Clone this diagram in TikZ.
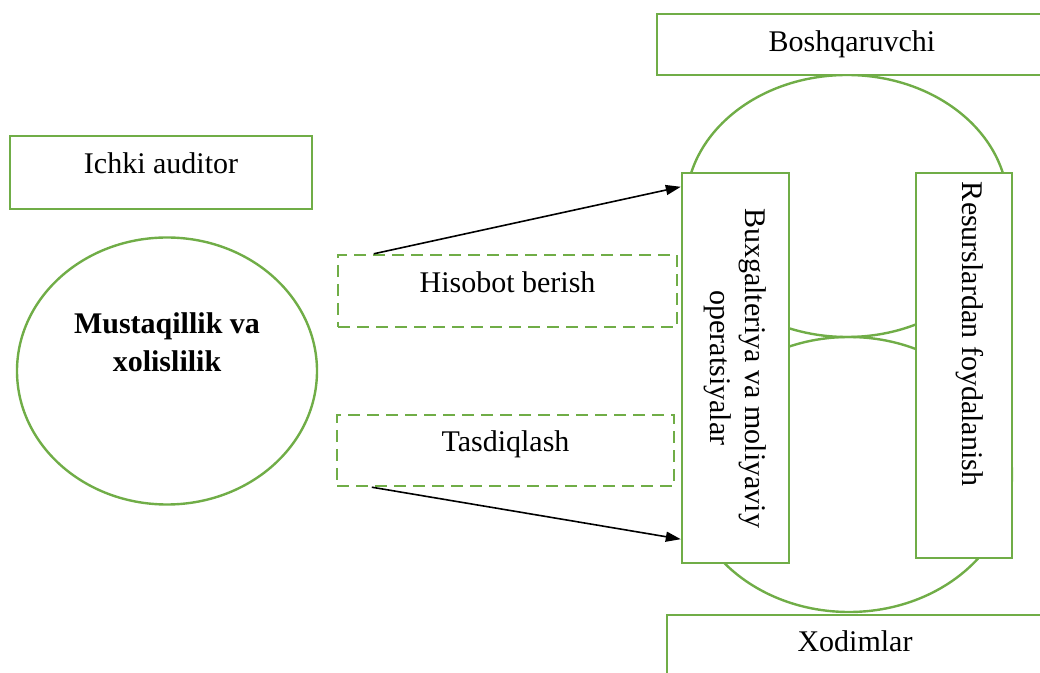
\documentclass[tikz,border=0pt]{standalone}
\usepackage{fontspec}
\setmainfont{Liberation Serif}
\usetikzlibrary{arrows.meta, shapes.geometric}
\definecolor{ggreen}{RGB}{112,173,71}

\begin{document}
\begin{tikzpicture}[x=0.5pt, y=-0.5pt, line width=1.2pt,
    every node/.style={font=\fontsize{15pt}{17.5pt}\selectfont},
    gbox/.style={draw=ggreen, fill=white},
    dbox/.style={draw=ggreen, dash pattern=on 6pt off 3.5pt},
    lowtxt/.style={text height=10pt, text depth=8.5pt},
    arr/.style={black, line width=0.8pt, -{Triangle[length=7.5pt, width=5pt]}}]
  \useasboundingbox (0,0) rectangle (1040,673);

  \draw[ggreen] (847,206) ellipse [x radius=161, y radius=131];
  \draw[ggreen] (849,474.5) ellipse [x radius=163, y radius=137.5];

  \node[gbox, lowtxt, minimum width=151pt, minimum height=36.5pt] (ichki) at (161,172.5) {Ichki auditor};
  \node[gbox, ellipse, minimum width=150pt, minimum height=133.5pt, align=center,
        font=\fontsize{15pt}{19pt}\selectfont\bfseries, text depth=28.5pt] (mustaqil) at (167,371) {Mustaqillik va\\xolislilik};

  \node[dbox, lowtxt, minimum width=169.5pt, minimum height=36pt] (hisobot) at (507.5,291) {Hisobot berish};
  \node[dbox, lowtxt, minimum width=168.5pt, minimum height=35.5pt] (tasdiq) at (505.5,450.5) {Tasdiqlash};

  \node[gbox, minimum width=195pt, minimum height=30.5pt] (boshq) at (852,44.5) {Boshqaruvchi};
  \node[gbox, lowtxt, minimum width=188pt, minimum height=35.5pt] (xodim) at (855,650.5) {Xodimlar};

  \node[gbox, rotate=-90, align=center, minimum width=195pt, minimum height=53.5pt] (bux) at (735.5,368) {Buxgalteriya va moliyaviy\\operatsiyalar};
  \node[gbox, lowtxt, rotate=-90, text width=183.5pt, inner xsep=4.5pt, align=flush left,
        minimum width=192.5pt, minimum height=48pt] (resurs) at (964,365.5) {Resurslardan foydalanish};

  \draw[arr] ([xshift=18.5pt]hisobot.north west) -- ([yshift=-7.5pt]bux.south west);
  \draw[arr] ([xshift=18pt]tasdiq.south west) -- ([yshift=12.5pt]bux.south east);
\end{tikzpicture}
\end{document}
